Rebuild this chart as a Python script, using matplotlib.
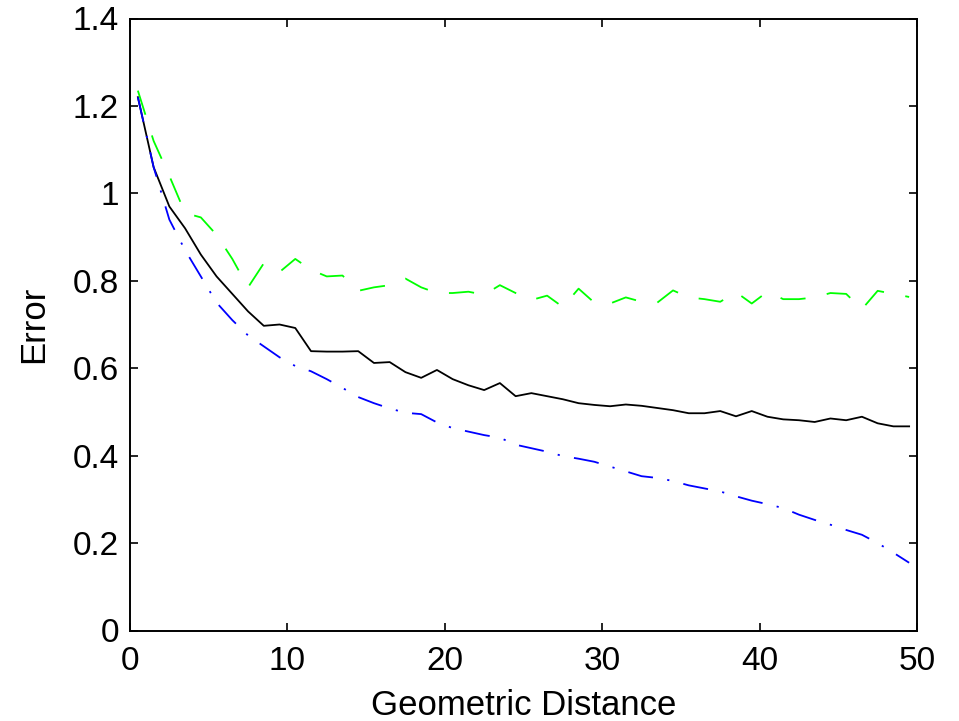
import numpy as np
import matplotlib
matplotlib.use("Agg")
import matplotlib.pyplot as plt

plt.rcParams['font.family'] = ['Liberation Sans', 'DejaVu Sans']

# --- dados ---
distancia = np.arange(0.5, 50, 1.0)

erro_preto = [1.22, 1.06, 0.97, 0.92, 0.86, 0.81, 0.77, 0.73, 0.697, 0.70,
              0.692, 0.639, 0.638, 0.638, 0.639, 0.612, 0.614, 0.591, 0.578, 0.596,
              0.575, 0.561, 0.55, 0.566, 0.536, 0.543, 0.536, 0.529, 0.52, 0.516,
              0.513, 0.517, 0.514, 0.509, 0.504, 0.497, 0.497, 0.502, 0.49, 0.502,
              0.489, 0.483, 0.481, 0.477, 0.485, 0.481, 0.489, 0.474, 0.467, 0.467]

erro_azul = [1.22, 1.06, 0.94, 0.87, 0.81, 0.75, 0.71, 0.675, 0.65, 0.625,
             0.605, 0.593, 0.575, 0.555, 0.534, 0.52, 0.508, 0.498, 0.495, 0.476,
             0.463, 0.455, 0.447, 0.441, 0.425, 0.417, 0.409, 0.399, 0.393, 0.386,
             0.375, 0.364, 0.353, 0.349, 0.342, 0.332, 0.325, 0.318, 0.307, 0.297,
             0.289, 0.28, 0.265, 0.253, 0.242, 0.23, 0.219, 0.2, 0.178, 0.155]

erro_verde = [1.235, 1.12, 1.04, 0.955, 0.945, 0.905, 0.85, 0.785, 0.84, 0.82,
              0.85, 0.825, 0.81, 0.812, 0.777, 0.785, 0.79, 0.805, 0.785, 0.772,
              0.772, 0.775, 0.768, 0.79, 0.772, 0.756, 0.766, 0.74, 0.782, 0.75,
              0.748, 0.762, 0.752, 0.75, 0.778, 0.762, 0.758, 0.752, 0.774, 0.748,
              0.775, 0.758, 0.758, 0.762, 0.772, 0.77, 0.735, 0.777, 0.77, 0.763]

xticks = [0, 10, 20, 30, 40, 50]
yticks = [0, 0.2, 0.4, 0.6, 0.8, 1, 1.2, 1.4]
yticklabels = ['0', '0.2', '0.4', '0.6', '0.8', '1', '1.2', '1.4']

# --- grafico ---
fig = plt.figure(figsize=(9.59, 7.21), dpi=100)
ax = fig.add_axes([130 / 959, 1 - 630.5 / 721, 787 / 959, 612 / 721])

ax.plot(distancia, erro_verde, color='#00ff00', lw=1.3, dashes=(14, 12))
ax.plot(distancia, erro_preto, color='black', lw=1.3)
ax.plot(distancia, erro_azul, color='#0000ff', lw=1.3, dashes=(14, 8, 1.2, 8))

ax.set_xlim(0, 50)
ax.set_ylim(0, 1.4)
ax.set_xticks(xticks)
ax.set_yticks(yticks)
ax.set_yticklabels(yticklabels)
ax.tick_params(direction='in', length=6, width=1.2, labelsize=24,
               top=True, right=True)
ax.tick_params(axis='x', pad=11)
ax.tick_params(axis='y', pad=8)
for s in ax.spines.values():
    s.set_linewidth(1.4)

ax.set_xlabel('Geometric Distance', fontsize=25, labelpad=9)
ax.set_ylabel('Error', fontsize=25, labelpad=16)

fig.savefig('out.png', dpi=100)
